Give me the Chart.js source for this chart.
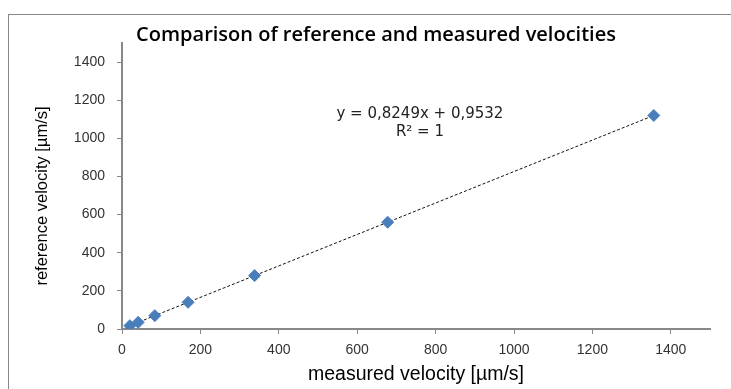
<!DOCTYPE html>
<html>
<head>
<meta charset="utf-8">
<script src="https://cdn.jsdelivr.net/npm/chart.js@4"></script>
<style>
  html, body { margin: 0; padding: 0; background: #fff; }
  #wrap { position: relative; width: 731px; height: 389px; overflow: hidden; }
  #frame { position: absolute; left: 8px; top: 14px; width: 740px; height: 400px; border: 1px solid #888; box-sizing: border-box; }
  canvas { position: absolute; left: 0; top: 0; }
</style>
</head>
<body>
<div id="wrap">
  <div id="frame"></div>
  <canvas id="chart" width="731" height="389"></canvas>
</div>
<script>
// measured velocity [µm/s] vs reference velocity [µm/s]
const measured = [20.1, 41.3, 83.7, 168.6, 338.3, 677.7, 1356.6];
const reference = [17.5, 35, 70, 140, 280, 560, 1120];

// linear trendline end points (y = 0,8249x + 0,9532)
const trendX = [20.1, 1356.6];
const trendY = [17.5, 1120];

const xTicks = [0, 200, 400, 600, 800, 1000, 1200, 1400];
const yTicks = [0, 200, 400, 600, 800, 1000, 1200, 1400];

const titleText = "Comparison of reference and measured velocities";
const yTitleText = "reference velocity [\u00b5m/s]";
const equationLines = ["y = 0,8249x + 0,9532", "R\u00b2 = 1"];

const font = "'Liberation Sans', Arial, sans-serif";

// chart title, y axis title and trendline label
const textPlugin = {
    id: "texts",
    afterDraw(chart) {
        const ctx = chart.ctx;
        ctx.save();
        ctx.textAlign = "center";
        ctx.textBaseline = "middle";
        ctx.fillStyle = "#000";
        ctx.font = "600 20px 'Open Sans', sans-serif";
        ctx.fillText(titleText, 376, 35);

        ctx.save();
        ctx.translate(42, 196);
        ctx.rotate(-Math.PI / 2);
        ctx.font = "16.5px " + font;
        ctx.fillText(yTitleText, 0, 0);
        ctx.restore();

        const x = chart.scales.x.getPixelForValue(760);
        ctx.fillStyle = "#222";
        ctx.font = "15px 'DejaVu Sans', sans-serif";
        ctx.fillText(equationLines[0], x, chart.scales.y.getPixelForValue(1129));
        ctx.fillText(equationLines[1], x, chart.scales.y.getPixelForValue(1034));
        ctx.restore();
    }
};

new Chart(document.getElementById("chart").getContext("2d"), {
    type: "scatter",
    data: {
        datasets: [
            {
                label: "trend",
                type: "line",
                data: trendX.map((x, i) => ({ x: x, y: trendY[i] })),
                borderColor: "#111",
                borderWidth: 1,
                borderDash: [3, 2],
                pointRadius: 0,
                order: 2
            },
            {
                label: "velocities",
                data: measured.map((x, i) => ({ x: x, y: reference[i] })),
                backgroundColor: "#4A7EBB",
                borderColor: "#4A7EBB",
                pointStyle: "rectRot",
                pointRadius: 6,
                order: 1
            }
        ]
    },
    options: {
        responsive: false,
        animation: false,
        layout: { padding: { left: 37, right: 21, top: 43, bottom: 0 } },
        plugins: {
            legend: { display: false },
            tooltip: { enabled: false },
            title: { display: false }
        },
        scales: {
            x: {
                type: "linear",
                min: 0,
                max: 1500,
                afterBuildTicks: s => { s.ticks = xTicks.map(v => ({ value: v })); },
                afterFit: s => { s.height = 60; },
                ticks: { color: "#333", font: { family: font, size: 14 }, padding: 8, callback: v => String(v) },
                grid: { drawOnChartArea: false, color: "#888", tickLength: 5 },
                border: { color: "#888", width: 2 },
                title: {
                    display: true,
                    text: "measured velocity [\u00b5m/s]",
                    color: "#000",
                    font: { family: font, size: 19.5 },
                    padding: { top: 2, bottom: 3 }
                }
            },
            y: {
                type: "linear",
                min: 0,
                max: 1500,
                afterBuildTicks: s => { s.ticks = yTicks.map(v => ({ value: v })); },
                afterFit: s => { s.width = 85; },
                ticks: { color: "#333", font: { family: font, size: 14 }, padding: 12, callback: v => String(v) },
                grid: { drawOnChartArea: false, color: "#888", tickLength: 5 },
                border: { color: "#888", width: 2 },
                title: { display: false }
            }
        }
    },
    plugins: [textPlugin]
});
</script>
</body>
</html>
